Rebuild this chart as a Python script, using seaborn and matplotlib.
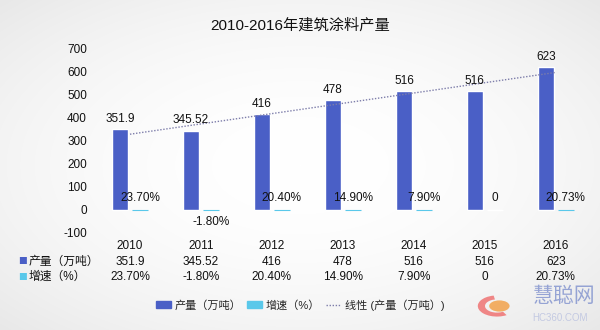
import numpy as np
import pandas as pd
import matplotlib
matplotlib.use("Agg")
import matplotlib.pyplot as plt
import seaborn as sns
from matplotlib.patches import Patch, Circle, Wedge
from matplotlib.lines import Line2D
import matplotlib.transforms as mtransforms

# ---- data ----
years = ["2010", "2011", "2012", "2013", "2014", "2015", "2016"]
production = [351.9, 345.52, 416, 478, 516, 516, 623]
growth = [0.237, -0.018, 0.204, 0.149, 0.079, 0.0, 0.2073]
series_names = ["产量（万吨）", "增速（%）"]
trend_name = "线性 (产量（万吨）)"
title = "2010-2016年建筑涂料产量"

prod_labels = [f"{v:g}" for v in production]
growth_labels = ["0" if v == 0 else f"{v:.2%}" for v in growth]

blue = "#4a5fc6"
cyan = "#5ac8ea"
trend_color = "#7d7daa"

sns.set_style("white")
plt.rcParams["font.family"] = ["Liberation Sans", "Noto Sans CJK SC"]
plt.rcParams["axes.unicode_minus"] = False

df = pd.DataFrame({
    "year": years * 2,
    "series": [series_names[0]] * len(years) + [series_names[1]] * len(years),
    "value": production + growth,
})

fig = plt.figure(figsize=(6, 3.3), dpi=100)

# soft radial background
H, W = 330, 600
yy, xx = np.mgrid[0:H, 0:W]
r2 = ((xx - W / 2) / (W / 2)) ** 2 + ((yy - H / 2) / (H / 2)) ** 2
bg = np.clip(1.0 - 0.045 * r2, 0, 1)
fig.figimage(np.dstack([bg, bg, bg]), xo=0, yo=0, zorder=-10)

ax = fig.add_axes([0.1575, 0.294, 0.828, 0.5576])
ax.patch.set_alpha(0)

sns.barplot(data=df, x="year", y="value", hue="series",
            palette=[blue, cyan], width=0.56, gap=0.2, saturation=1,
            legend=False, ax=ax)

# tiny growth bars visible as thin lines
for bar, v in zip(ax.containers[1], growth):
    if v != 0:
        bar.set_edgecolor(cyan)
        bar.set_linewidth(0.8)

ax.bar_label(ax.containers[0], labels=prod_labels, padding=3, fontsize=8.5, color="#111111")
ax.bar_label(ax.containers[1], labels=growth_labels, padding=4, fontsize=8.5, color="#111111")

# linear trend line of production
xi = np.arange(len(production))
coef = np.polyfit(xi, production, 1)
ax.plot(xi, np.polyval(coef, xi), linestyle=(0, (1, 1.2)), color=trend_color, linewidth=1.0)

ax.set_xlim(-0.5, len(years) - 0.5)
ax.set_ylim(-100, 700)
ax.set_yticks(range(-100, 800, 100))
ax.tick_params(axis="y", length=0, pad=5.4, labelsize=8.5, labelcolor="#111111")
ax.tick_params(axis="x", length=0, pad=5, labelsize=8.5, labelcolor="#111111")
ax.set_xlabel("")
ax.set_ylabel("")
for s in ax.spines.values():
    s.set_visible(False)

# data table rows
trans = mtransforms.blended_transform_factory(ax.transData, fig.transFigure)
row_y = [1 - 262 / 330, 1 - 277 / 330]
for i, v in enumerate(prod_labels):
    ax.text(i, row_y[0], v, transform=trans, ha="center", va="center", fontsize=8.5, color="#111111")
for i, v in enumerate(growth_labels):
    ax.text(i, row_y[1], v, transform=trans, ha="center", va="center", fontsize=8.5, color="#111111")
fig.text(18 / 600, row_y[0], "■", color=blue, ha="left", va="center", fontsize=6.3,
         family=["Noto Sans CJK SC"])
fig.text(29 / 600, row_y[0], series_names[0], ha="left", va="center", fontsize=8.5, color="#111111")
fig.text(18 / 600, row_y[1], "■", color=cyan, ha="left", va="center", fontsize=6.3,
         family=["Noto Sans CJK SC"])
fig.text(29 / 600, row_y[1], series_names[1], ha="left", va="center", fontsize=8.5, color="#111111")

# title
fig.text(0.5, 1 - 25 / 330, title, ha="center", va="center", fontsize=11, color="#111111")

# legend
handles = [Patch(facecolor=blue, edgecolor=blue), Patch(facecolor=cyan, edgecolor=cyan),
           Line2D([0], [0], color=trend_color, linestyle=(0, (1, 1.2)), linewidth=1.0)]
fig.legend(handles, series_names + [trend_name], loc="center", bbox_to_anchor=(0.5, 1 - 305 / 330),
           ncol=3, frameon=False, fontsize=8, handlelength=1.35, handleheight=0.6,
           columnspacing=0.5, handletextpad=0.35)

# watermark
cx, cy = 497 / 600, 1 - 306 / 330
swirl = Wedge((cx, cy), 0.032, 100, 300, width=0.012, transform=fig.transFigure,
              facecolor="#ef6b6b", edgecolor="none", alpha=0.8)
fig.patches.append(swirl)
logo = Circle((cx + 0.004, cy), 0.017, transform=fig.transFigure, facecolor="#f2a24a",
              edgecolor="none", alpha=0.85)
fig.patches.append(logo)
fig.text(564 / 600, 1 - 296 / 330, "慧聪网", ha="center", va="center", fontsize=15,
         color="#95a3d4", style="italic")
fig.text(560 / 600, 1 - 318 / 330, "HC360.COM", ha="center", va="center", fontsize=7,
         color="#c3c9e2")

fig.savefig("out.png", dpi=100)
